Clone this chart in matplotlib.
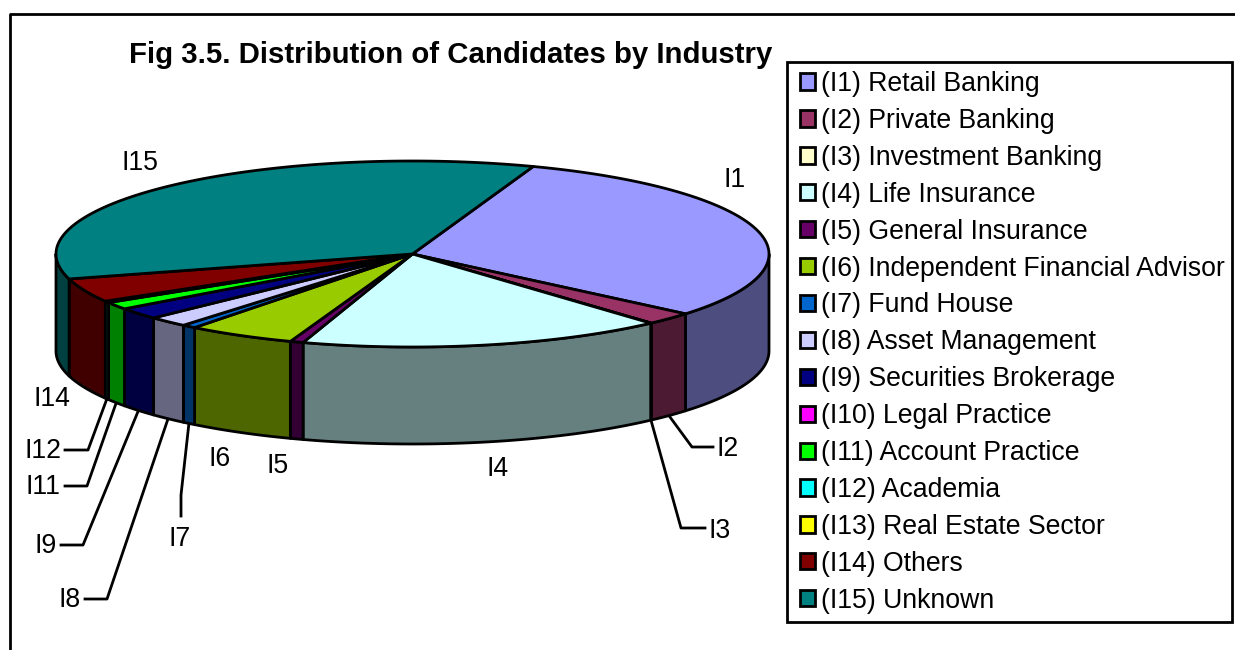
import numpy as np
import matplotlib
matplotlib.use("Agg")
import matplotlib.pyplot as plt
from matplotlib.patches import Patch, Polygon, Rectangle

plt.rcParams["font.family"] = ["Liberation Sans", "DejaVu Sans"]

legend_labels = [
    "(I1) Retail Banking",
    "(I2) Private Banking",
    "(I3) Investment Banking",
    "(I4) Life Insurance",
    "(I5) General Insurance",
    "(I6) Independent Financial Advisor",
    "(I7) Fund House",
    "(I8) Asset Management",
    "(I9) Securities Brokerage",
    "(I10) Legal Practice",
    "(I11) Account Practice",
    "(I12) Academia",
    "(I13) Real Estate Sector",
    "(I14) Others",
    "(I15) Unknown",
]
shares = [30.6, 2.2, 0.03, 16.6, 0.6, 4.9, 0.64, 1.83, 2.03, 0.0, 1.28, 0.28, 0.0, 4.14, 34.8]
colors = [
    "#9999FF", "#993366", "#FFFFCC", "#CCFFFF", "#660066",
    "#99CC00", "#0066CC", "#CCCCFF", "#000080", "#FF00FF",
    "#00FF00", "#00FFFF", "#FFFF00", "#800000", "#008080",
]

# pie geometry, in pixels of the picture
CX, CY, RX, RY, DEPTH = 412.5, 254.0, 356.5, 93.0, 97.0
START_ANGLE = 70.2
LINE = 2.0

# plain labels: name, x, y
plain_labels = [
    ("I1", 735, 180), ("I15", 140, 163), ("I4", 498, 469),
    ("I5", 278, 466), ("I6", 220, 459), ("I14", 52, 399),
]
# leader labels: wedge index, text x, text y, elbow, line end
leader_labels = [
    (1, 728, 449, (692, 447), (713, 447)),
    (2, 720, 531, (681, 528), (705, 528)),
    (6, 180, 539, (181, 495), (181, 516)),
    (7, 70, 600, (107, 599), (85, 599)),
    (8, 46, 546, (83, 545), (61, 545)),
    (10, 43, 487, (87, 486), (65, 486)),
    (11, 43, 451, (88, 450), (65, 450)),
]


def rim(deg, drop=0.0):
    t = np.radians(deg)
    return CX + RX * np.cos(t), CY - RY * np.sin(t) + drop


def darker(color):
    return tuple(c * 0.5 for c in matplotlib.colors.to_rgb(color))


def main() -> None:
    fig = plt.figure(figsize=(12.35, 6.5), dpi=100)
    ax = fig.add_axes([0, 0, 1, 1])
    ax.set_xlim(0, 1235)
    ax.set_ylim(650, 0)
    ax.axis("off")

    # outer chart border, open at the bottom and right
    ax.plot([10, 10, 1235], [650, 14, 14], color="black", lw=LINE)

    total = sum(shares)
    edges = START_ANGLE - np.cumsum([0] + shares) * 360.0 / total

    # side walls, only where the wedge faces the viewer
    for i, color in enumerate(colors):
        hi, lo = max(edges[i + 1], -180.0), min(edges[i], 0.0)
        # I15 wraps past the back, its visible wall is the part before -180
        if i == len(colors) - 1:
            hi, lo = -180.0, edges[i]
        if lo <= hi:
            continue
        t = np.linspace(lo, hi, 60)
        x, y = rim(t)
        pts = np.r_[np.c_[x, y], np.c_[x, y + DEPTH][::-1]]
        ax.add_patch(Polygon(pts, closed=True, fc=darker(color), ec="black", lw=LINE, joinstyle="round", zorder=2))

    # top face
    for i, color in enumerate(colors):
        if shares[i] <= 0:
            continue
        t = np.linspace(edges[i], edges[i + 1], 160)
        x, y = rim(t)
        pts = np.r_[[[CX, CY]], np.c_[x, y]]
        ax.add_patch(Polygon(pts, closed=True, fc=color, ec="black", lw=LINE, joinstyle="round", zorder=3))

    for name, x, y in plain_labels:
        ax.text(x, y, name, fontsize=19.2, ha="center", va="center", zorder=5)

    for i, tx, ty, elbow, end in leader_labels:
        mid = (edges[i] + edges[i + 1]) / 2
        sx, sy = rim(mid, DEPTH)
        ax.plot([sx, elbow[0], end[0]], [sy, elbow[1], end[1]], color="black", lw=LINE, zorder=1)
        ax.text(tx, ty, legend_labels[i].split(")")[0][1:], fontsize=19.2, ha="center", va="center", zorder=5)

    ax.text(451, 55, "Fig 3.5. Distribution of Candidates by Industry", fontsize=21.2,
            fontweight="bold", ha="center", va="center")

    # legend box is wider on the left than the right, so draw it apart from the entries
    ax.add_patch(Rectangle((787, 62), 445, 560, fc="white", ec="black", lw=LINE, zorder=4))
    handles = [Patch(fc=c, ec="black", lw=LINE) for c in colors]
    leg = ax.legend(
        handles, legend_labels, loc="upper left", bbox_to_anchor=(800, 71),
        bbox_transform=ax.transData, fontsize=19.2, frameon=False,
        borderaxespad=0, borderpad=0, labelspacing=0.409, handlelength=0.56,
        handleheight=0.56, handletextpad=0.225,
    )
    leg.set_zorder(6)

    fig.savefig("out.png", dpi=100)


if __name__ == "__main__":
    main()
